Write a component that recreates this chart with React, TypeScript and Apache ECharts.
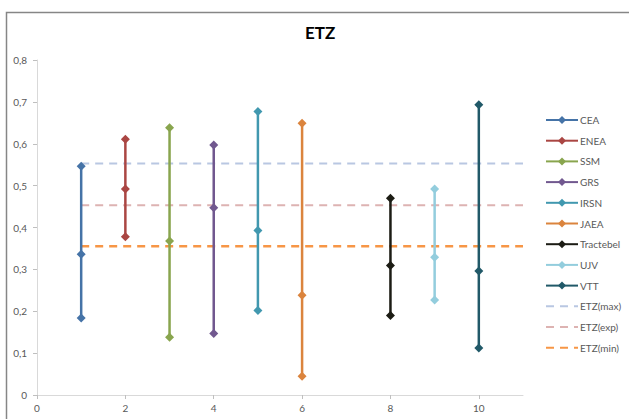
import React, { useEffect, useRef } from "react";
import * as echarts from "echarts";

const seriesNames = ["CEA", "ENEA", "SSM", "GRS", "IRSN", "JAEA", "Tractebel", "UJV", "VTT"];
const seriesX = [1, 2, 3, 4, 5, 6, 8, 9, 10];
const minValues = [0.184, 0.378, 0.138, 0.147, 0.202, 0.045, 0.19, 0.227, 0.112];
const expValues = [0.336, 0.492, 0.368, 0.447, 0.393, 0.238, 0.309, 0.329, 0.296];
const maxValues = [0.546, 0.611, 0.638, 0.597, 0.677, 0.649, 0.47, 0.492, 0.693];
const seriesColors = ["#4573A7", "#AA4643", "#89A54E", "#71588F", "#4198AF", "#DB843D", "#1C1C14", "#93CDDD", "#215968"];

const etzNames = ["ETZ(max)", "ETZ(exp)", "ETZ(min)"];
const etzValues = [0.553, 0.453, 0.355];
const etzColors = ["#B9C7E2", "#DDB3B2", "#F79646"];
const etzWidths = [2, 2, 2.5];
const etzRange = [1, 11];

const xTicks = [0, 2, 4, 6, 8, 10];

export default function App() {
  const ref = useRef<HTMLDivElement>(null);
  useEffect(() => {
    if (!ref.current) return;
    const chart = echarts.init(ref.current, undefined, { renderer: "svg" });
    const series: any[] = seriesNames.map((name, i) => ({
      name,
      type: "line",
      data: [
        [seriesX[i], minValues[i]],
        [seriesX[i], expValues[i]],
        [seriesX[i], maxValues[i]],
      ],
      symbol: "diamond",
      symbolSize: 9,
      showSymbol: true,
      lineStyle: { width: 2.5, color: seriesColors[i] },
      itemStyle: { color: seriesColors[i] },
      z: 3,
    }));
    etzNames.forEach((name, i) => {
      series.push({
        name,
        type: "line",
        data: etzRange.map((x) => [x, etzValues[i]]),
        symbol: "none",
        lineStyle: { width: etzWidths[i], color: etzColors[i], type: [8, 6] },
        itemStyle: { color: etzColors[i] },
        z: 2,
      });
    });
    chart.setOption({
      animation: false,
      backgroundColor: "#fff",
      textStyle: { fontFamily: "Lato, 'Open Sans', sans-serif" },
      title: {
        text: "ETZ",
        left: 300,
        top: 19,
        textStyle: { fontSize: 17, fontWeight: "bold", color: "#000", fontFamily: "Lato, 'Open Sans', sans-serif" },
      },
      graphic: [
        {
          type: "polyline",
          shape: { points: [[6.5, 419], [6.5, 12.5], [629, 12.5]] },
          style: { stroke: "#868686", lineWidth: 1.5, fill: "none" },
          silent: true,
        },
      ],
      legend: {
        orient: "vertical",
        left: 545,
        top: 115,
        padding: 0,
        itemWidth: 32,
        itemHeight: 10,
        itemGap: 10.7,
        textStyle: { fontSize: 10, color: "#595959", padding: [0, 0, 0, -3] },
        data: [
          ...seriesNames,
          ...etzNames.map((name) => ({ name, itemStyle: { opacity: 0 } })),
        ],
      },
      grid: { left: 37, right: 106, top: 60, bottom: 24, containLabel: false },
      xAxis: {
        type: "value",
        min: 0,
        max: 11,
        interval: 2,
        axisLine: { show: true, lineStyle: { color: "#D9D9D9", width: 1 } },
        axisTick: { show: true, length: 4, lineStyle: { color: "#BFBFBF" }, customValues: xTicks },
        axisLabel: { fontSize: 10, color: "#595959", margin: 8, customValues: xTicks },
        splitLine: { show: false },
      },
      yAxis: {
        type: "value",
        min: 0,
        max: 0.8,
        interval: 0.1,
        axisLine: { show: true, lineStyle: { color: "#D9D9D9", width: 1 } },
        axisTick: { show: true, length: 4, lineStyle: { color: "#BFBFBF" } },
        axisLabel: {
          fontSize: 10,
          color: "#595959",
          margin: 10,
          formatter: (v: number) => String(Math.round(v * 10) / 10).replace(".", ","),
        },
        splitLine: { show: false },
      },
      series,
    });
    return () => chart.dispose();
  }, []);
  return <div ref={ref} style={{ position: "fixed", left: 0, top: 0, width: 629, height: 419 }} />;
}
